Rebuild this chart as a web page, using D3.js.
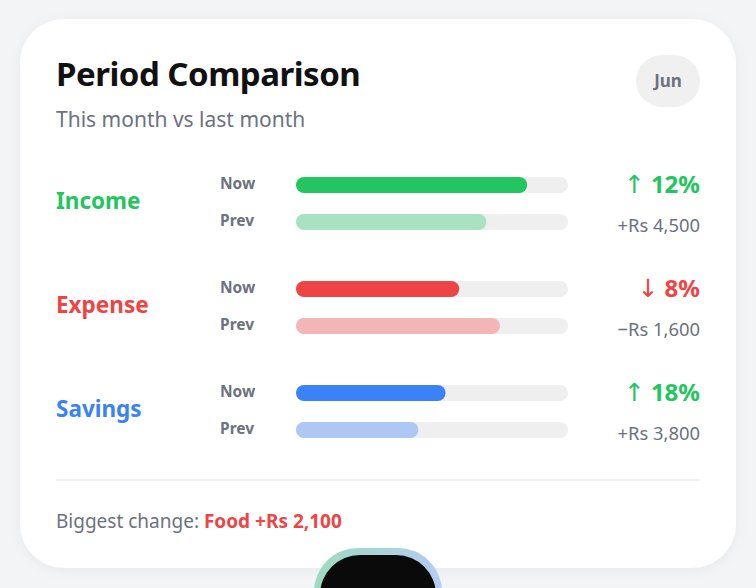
<!DOCTYPE html>
<html>
<head>
<meta charset="utf-8">
<script src="https://cdn.jsdelivr.net/npm/d3@7"></script>
<style>
  html, body { margin: 0; padding: 0; background: #f3f4f6; }
  svg { display: block; font-family: "Noto Sans", sans-serif; }
</style>
</head>
<body>
<svg id="chart" width="756" height="588"></svg>
<script>
const categories = ["Income", "Expense", "Savings"];
const nowValues = [85, 60, 55];
const prevValues = [70, 75, 45];
const trendArrow = ["↑", "↓", "↑"];
const pctChange = ["12%", "8%", "18%"];
const amountChange = ["+Rs 4,500", "−Rs 1,600", "+Rs 3,800"];
const rowLabels = ["Now", "Prev"];

const strong = { Income: "#22c55e", Expense: "#ef4444", Savings: "#3b82f6" };
const soft = { Income: "#a8e2c1", Expense: "#f2b6b6", Savings: "#adc8f3" };
const trendColor = ["#22c55e", "#ef4444", "#22c55e"];

const svg = d3.select("#chart");
const defs = svg.append("defs");

const shadow = defs.append("filter").attr("id", "shadow")
  .attr("x", "-10%").attr("y", "-10%").attr("width", "120%").attr("height", "120%");
shadow.append("feDropShadow").attr("dx", 0).attr("dy", 2).attr("stdDeviation", 6)
  .attr("flood-color", "#000").attr("flood-opacity", 0.05);

const grad = defs.append("linearGradient").attr("id", "ring");
grad.append("stop").attr("offset", "0%").attr("stop-color", "#9ddbbf");
grad.append("stop").attr("offset", "100%").attr("stop-color", "#b4cdf3");

// card
svg.append("rect")
  .attr("x", 20).attr("y", 19).attr("width", 716).attr("height", 549)
  .attr("rx", 44).attr("fill", "#fff").attr("filter", "url(#shadow)");

// header
svg.append("text").attr("x", 56).attr("y", 86)
  .attr("font-size", 33).attr("font-weight", 700).attr("fill", "#111")
  .attr("letter-spacing", -0.5)
  .text("Period Comparison");
svg.append("text").attr("x", 56).attr("y", 127)
  .attr("font-size", 21).attr("fill", "#6b7280")
  .text("This month vs last month");

svg.append("rect").attr("x", 636).attr("y", 55).attr("width", 64).attr("height", 52)
  .attr("rx", 26).attr("fill", "#f0f0f1");
svg.append("text").attr("x", 668).attr("y", 87).attr("text-anchor", "middle")
  .attr("font-size", 17).attr("font-weight", 700).attr("fill", "#6b7280")
  .text("Jun");

// scales
const x = d3.scaleLinear().domain([0, 100]).range([296, 568]);
const groupY = d3.scalePoint().domain(categories).range([185, 393]);
const rowOffset = d3.scalePoint().domain(rowLabels).range([0, 37]);
const barH = 16;

const groups = svg.selectAll("g.group")
  .data(categories)
  .join("g")
  .attr("class", "group")
  .attr("transform", d => `translate(0,${groupY(d)})`);

groups.append("text")
  .attr("x", 56).attr("y", 24)
  .attr("font-size", 22.5).attr("font-weight", 700)
  .attr("fill", d => strong[d])
  .text(d => d);

groups.each(function (cat, i) {
  const g = d3.select(this);
  const vals = [nowValues[i], prevValues[i]];
  rowLabels.forEach((r, j) => {
    const cy = rowOffset(r);
    g.append("text").attr("x", 220).attr("y", cy + 4)
      .attr("font-size", 15.5).attr("font-weight", 700).attr("fill", "#6b7280")
      .text(r);
    g.append("rect")
      .attr("x", x(0)).attr("y", cy - barH / 2)
      .attr("width", x(100) - x(0)).attr("height", barH)
      .attr("rx", barH / 2).attr("fill", "#efefef");
    g.append("rect")
      .attr("x", x(0)).attr("y", cy - barH / 2)
      .attr("width", x(vals[j]) - x(0)).attr("height", barH)
      .attr("rx", barH / 2).attr("fill", j === 0 ? strong[cat] : soft[cat]);
  });
  const pct = g.append("text").attr("x", 700).attr("y", 8)
    .attr("text-anchor", "end")
    .attr("font-weight", 700).attr("fill", trendColor[i]);
  pct.append("tspan").attr("font-family", "DejaVu Sans").attr("font-size", 25)
    .attr("font-weight", 400).text(trendArrow[i]);
  pct.append("tspan").attr("dx", 6).attr("font-size", 24).text(pctChange[i]);
  g.append("text").attr("x", 700).attr("y", 47)
    .attr("text-anchor", "end")
    .attr("font-size", 18.4).attr("fill", "#6b7280")
    .text(amountChange[i]);
});

// divider + footer
svg.append("line").attr("x1", 56).attr("x2", 700).attr("y1", 480).attr("y2", 480)
  .attr("stroke", "#ececec").attr("stroke-width", 1.5);

const foot = svg.append("text").attr("x", 56).attr("y", 528).attr("font-size", 19);
foot.append("tspan").attr("fill", "#6b7280").text("Biggest change: ");
foot.append("tspan").attr("fill", "#ef4444").attr("font-weight", 700).text("Food +Rs 2,100");

// bottom bubble
svg.append("rect").attr("x", 314).attr("y", 548).attr("width", 128).attr("height", 100)
  .attr("rx", 44).attr("fill", "url(#ring)");
svg.append("rect").attr("x", 320).attr("y", 555).attr("width", 116).attr("height", 100)
  .attr("rx", 40).attr("fill", "#0a0a0a");
</script>
</body>
</html>
